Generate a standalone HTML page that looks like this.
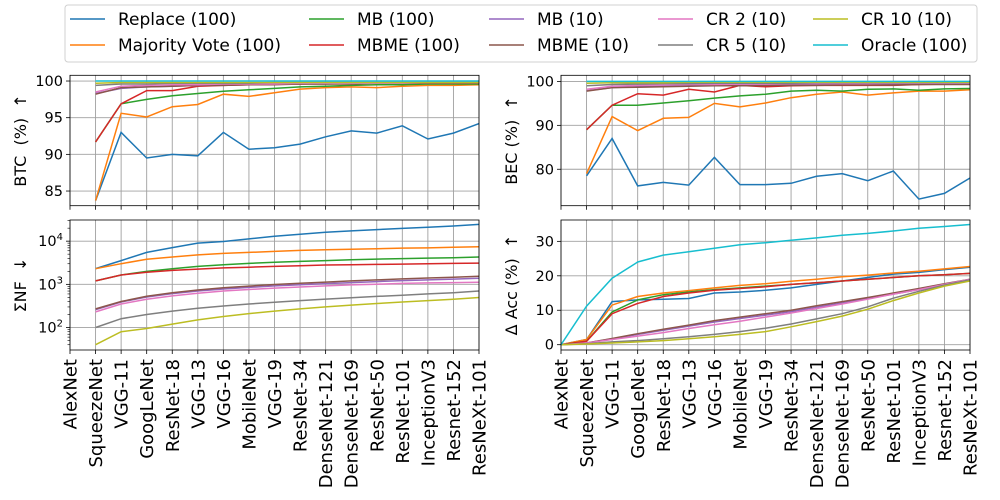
<!DOCTYPE html>
<html><head><meta charset="utf-8"><style>
body{margin:0;background:#fff;}
svg{display:block;font-family:"DejaVu Sans","Liberation Sans",sans-serif;}
</style></head><body>
<svg id="chart" width="1000" height="500" viewBox="0 0 1000 500"></svg>
<script>
const categories=["AlexNet","SqueezeNet","VGG-11","GoogLeNet","ResNet-18","VGG-13","VGG-16","MobileNet","VGG-19","ResNet-34","DenseNet-121","DenseNet-169","ResNet-50","ResNet-101","InceptionV3","Resnet-152","ResNeXt-101"];
const seriesNames=["Replace (100)","Majority Vote (100)","MB (100)","MBME (100)","MB (10)","MBME (10)","CR 2 (10)","CR 5 (10)","CR 10 (10)","Oracle (100)"];
const seriesKeys=["replace","majority-vote","mb-100","mbme-100","mb-10","mbme-10","cr2","cr5","cr10","oracle"];
const colors=["#1f77b4","#ff7f0e","#2ca02c","#d62728","#9467bd","#8c564b","#e377c2","#7f7f7f","#bcbd22","#17becf"];
// BTC (%) values, index 1..16 (SqueezeNet..ResNeXt-101)
const btcReplace=[83.7,93,89.5,90,89.8,93,90.7,90.9,91.4,92.4,93.2,92.9,93.9,92.1,92.9,94.2];
const btcMV=[83.7,95.6,95.1,96.5,96.8,98.2,97.9,98.4,98.9,99.1,99.2,99.1,99.3,99.4,99.4,99.5];
const btcMB=[91.7,96.9,97.5,98.0,98.3,98.6,98.8,99.0,99.2,99.3,99.4,99.5,99.5,99.6,99.6,99.6];
const btcMBME=[91.7,96.9,98.7,98.7,99.3,99.4,99.5,99.6,99.6,99.7,99.7,99.7,99.7,99.7,99.7,99.7];
const btcMB10=[98.3,99.0,99.2,99.3,99.4,99.5,99.5,99.6,99.6,99.6,99.7,99.7,99.7,99.7,99.7,99.7];
const btcMBME10=[98.2,99.1,99.2,99.3,99.4,99.4,99.5,99.5,99.6,99.6,99.6,99.7,99.7,99.7,99.7,99.7];
const btcCR2=[98.5,99.3,99.4,99.5,99.5,99.6,99.6,99.6,99.7,99.7,99.7,99.7,99.7,99.8,99.8,99.8];
const btcCR5=[99.4,99.6,99.6,99.7,99.7,99.7,99.7,99.8,99.8,99.8,99.8,99.8,99.8,99.8,99.8,99.8];
const btcCR10=[99.7,99.8,99.8,99.8,99.8,99.8,99.8,99.8,99.8,99.8,99.8,99.8,99.8,99.8,99.8,99.8];
const btcOracle=[100,100,100,100,100,100,100,100,100,100,100,100,100,100,100,100];
// BEC (%) values
const becReplace=[78.5,87.0,76.2,77.0,76.4,82.7,76.5,76.5,76.8,78.4,79.0,77.4,79.6,73.2,74.5,78.0];
const becMV=[79.0,92.0,88.8,91.6,91.8,95.0,94.2,95.1,96.3,97.1,97.6,96.9,97.4,97.8,97.8,98.1];
const becMB=[89.0,94.6,94.6,95.1,95.6,96.2,96.7,97.1,97.8,98.0,97.8,98.2,98.3,98.0,98.3,98.4];
const becMBME=[89.0,94.6,97.2,96.9,98.2,97.6,99.1,98.8,99.0,99.1,99.1,99.1,99.1,99.3,99.4,99.5];
const becMB10=[97.9,98.6,98.8,98.9,99.0,99.1,99.2,99.2,99.3,99.3,99.3,99.4,99.4,99.4,99.5,99.5];
const becMBME10=[97.8,98.6,98.7,98.8,98.9,99.0,99.0,99.1,99.1,99.1,99.2,99.2,99.2,99.3,99.3,99.3];
const becCR2=[98.2,98.9,99.1,99.2,99.3,99.3,99.4,99.4,99.5,99.5,99.5,99.5,99.6,99.6,99.6,99.6];
const becCR5=[99.0,99.3,99.4,99.5,99.5,99.6,99.6,99.6,99.6,99.7,99.7,99.7,99.7,99.7,99.7,99.7];
const becCR10=[99.6,99.7,99.7,99.7,99.8,99.8,99.8,99.8,99.8,99.8,99.8,99.8,99.8,99.8,99.8,99.8];
const becOracle=[100,100,100,100,100,100,100,100,100,100,100,100,100,100,100,100];
// Sum NF values (log scale)
const nfReplace=[2320,3550,5500,7100,9000,9800,11300,13000,14500,16000,17300,18500,19800,21000,22500,24500];
const nfMV=[2300,3000,3800,4300,4800,5200,5500,5800,6100,6300,6500,6700,6900,7000,7200,7400];
const nfMB=[1200,1650,2000,2300,2600,2850,3050,3250,3400,3550,3700,3850,3950,4050,4150,4300];
const nfMBME=[1200,1650,1900,2100,2250,2400,2500,2600,2700,2800,2850,2900,2950,3000,3050,3100];
const nfMB10=[260,390,510,610,700,780,850,920,980,1040,1100,1160,1220,1270,1320,1380];
const nfMBME10=[270,400,530,640,740,830,910,990,1060,1130,1200,1270,1340,1400,1460,1540];
const nfCR2=[230,350,450,540,620,700,760,820,870,920,970,1010,1050,1080,1100,1120];
const nfCR5=[100,160,200,240,280,315,350,385,420,455,490,525,560,600,640,700];
const nfCR10=[40,80,95,120,150,180,210,240,270,300,330,360,390,420,450,495];
// Delta Acc (%) values, index 0..16
const accReplace=[0,1.5,12.5,13,13.2,13.4,15,15.3,15.8,16.5,17.5,18.5,19.5,20.5,21,21.8,22.5];
const accMV=[0,1.5,11.5,14,15,15.7,16.5,17.2,17.7,18.4,19,19.7,20.2,20.8,21.3,22,22.7];
const accMB=[0,1,9.5,13,14.5,15.3,16,16.5,17,17.5,18,18.5,19,19.5,20,20.3,20.7];
const accMBME=[0,1,9,12,14,15,15.8,16.3,16.8,17.5,18,18.5,19,19.5,20,20.3,20.7];
const accMB10=[0,0.5,1.7,3,4.2,5.4,6.6,7.6,8.6,9.6,10.9,12.1,13.4,14.7,16,17.5,18.9];
const accMBME10=[0,0.5,1.8,3.2,4.5,5.7,7,8,9,10,11.3,12.5,13.7,15,16.3,17.7,19];
const accCR2=[0,0.5,1.5,2.5,3.5,4.7,5.8,6.8,8,9.2,10.5,11.8,13.2,14.7,16,17.5,19];
const accCR5=[0,0.3,0.8,1.2,1.7,2.3,3,3.8,4.8,6,7.5,9,11,13.5,15.5,17.3,18.8];
const accCR10=[0,0.2,0.5,0.8,1.2,1.7,2.3,3,3.8,5.2,6.7,8.3,10.3,12.8,15,17,18.5];
const accOracle=[0,11.2,19.3,24,26,27,28,29,29.6,30.3,31,31.8,32.3,33,33.8,34.3,34.9];

const btcTicks=[85,90,95,100];
const becTicks=[80,90,100];
const nfTicks=[2,3,4];
const accTicks=[0,10,20,30];

const NS="http://www.w3.org/2000/svg";
const svg=document.getElementById('chart');
function mk(tag,attrs,parent){const e=document.createElementNS(NS,tag);for(const k in attrs)e.setAttribute(k,attrs[k]);(parent||svg).appendChild(e);return e;}

function panel(name,x0,x1,y0,y1,ymin,ymax,logScale,series,startIdx,ticks,ylabel,showXLabels){
  const g=mk('g',{});
  
  
  const n=categories.length-1;
  const xs=i=>x0+(x1-x0)*i/n;
  const tv=v=>logScale?Math.log10(v):v;
  const ys=v=>y1-(y1-y0)*(tv(v)-ymin)/(ymax-ymin);
  categories.forEach((c,i)=>{
    const l=mk('line',{x1:xs(i),x2:xs(i),y1:y0,y2:y1,stroke:'#a0a0a0','stroke-width':0.9},g);
    
    
    mk('line',{x1:xs(i),x2:xs(i),y1:y1,y2:y1+4,stroke:'#000','stroke-width':0.8},g);
  });
  ticks.forEach(t=>{
    const yy=logScale?y1-(y1-y0)*(t-ymin)/(ymax-ymin):ys(t);
    mk('line',{x1:x0,x2:x1,y1:yy,y2:yy,stroke:'#a0a0a0','stroke-width':0.9},g);
    mk('line',{x1:x0-4,x2:x0,y1:yy,y2:yy,stroke:'#000','stroke-width':0.8},g);
    const tx=mk('text',{x:x0-7,y:yy+5,'text-anchor':'end','font-size':14.5,fill:'#000'},g);
    
    
    if(logScale){tx.textContent='10';const s=mk('tspan',{dy:-6,'font-size':10},tx);s.textContent=String(t);}
    else tx.textContent=String(t);
  });
  if(logScale){
    for(let d=1;d<=4;d++)for(let m=2;m<=9;m++){
      const lv=d+Math.log10(m);
      if(lv<ymin||lv>ymax)continue;
      const yy=y1-(y1-y0)*(lv-ymin)/(ymax-ymin);
      mk('line',{x1:x0-2.5,x2:x0,y1:yy,y2:yy,stroke:'#000','stroke-width':0.6},g);
    }
  }
  const clip='clip-'+name;
  const cp=mk('clipPath',{id:clip},g);mk('rect',{x:x0,y:y0,width:x1-x0,height:y1-y0},cp);
  series.forEach((vals,k)=>{
    if(!vals)return;
    const pts=vals.map((v,i)=>xs(i+startIdx).toFixed(1)+','+ys(v).toFixed(1)).join(' ');
    const p=mk('polyline',{points:pts,fill:'none',stroke:colors[k],'stroke-width':1.5,'clip-path':'url(#'+clip+')'},g);
    
    
  });
  const fr=mk('rect',{x:x0,y:y0,width:x1-x0,height:y1-y0,fill:'none',stroke:'#000','stroke-width':0.8},g);
  
  
  const cy=(y0+y1)/2;
  const yl=mk('text',{x:0,y:0,'text-anchor':'middle','font-size':16,fill:'#000','xml:space':'preserve',transform:`translate(${x0-44},${cy}) rotate(-90)`},g);
  
  
  yl.textContent=ylabel;
  if(showXLabels){
    categories.forEach((c,i)=>{
      const t=mk('text',{x:0,y:0,'text-anchor':'end','font-size':18,fill:'#000',transform:`translate(${xs(i)+6.5},${y1+9}) rotate(-90)`},g);
      
      
      t.textContent=c;
    });
  }
}
panel('btc',70,479,75.3,205.7,83.0,100.78,false,[btcReplace,btcMV,btcMB,btcMBME,btcMB10,btcMBME10,btcCR2,btcCR5,btcCR10,btcOracle],1,btcTicks,'BTC\u00a0\u00a0(%)\u00a0\u00a0↑',false);
panel('bec',561,970,75.3,205.7,71.7,101.4,false,[becReplace,becMV,becMB,becMBME,becMB10,becMBME10,becCR2,becCR5,becCR10,becOracle],1,becTicks,'BEC (%)\u00a0\u00a0↑',false);
panel('nf',70,479,220,350,1.48,4.49,true,[nfReplace,nfMV,nfMB,nfMBME,nfMB10,nfMBME10,nfCR2,nfCR5,nfCR10,null],1,nfTicks,'ΣNF\u00a0\u00a0↓',true);
panel('acc',561,970,220,350,-1.54,36.2,false,[accReplace,accMV,accMB,accMBME,accMB10,accMBME10,accCR2,accCR5,accCR10,accOracle],0,accTicks,'Δ Acc (%)\u00a0\u00a0↑',true);

const lg=mk('g',{});


mk('rect',{x:65,y:5,width:912,height:57,rx:3,fill:'#fff',stroke:'#d0d0d0','stroke-width':1},lg);
const colX=[70,309,489,658,813];
seriesNames.forEach((nm,k)=>{
  const c=Math.floor(k/2),r=k%2;
  const yy=19+r*26;
  const e=mk('g',{},lg);
  
  
  mk('line',{x1:colX[c],x2:colX[c]+35,y1:yy,y2:yy,stroke:colors[k],'stroke-width':1.5},e);
  const t=mk('text',{x:colX[c]+48,y:yy+6,'font-size':17,fill:'#000'},e);
  t.textContent=nm;
});
</script>
</body></html>
